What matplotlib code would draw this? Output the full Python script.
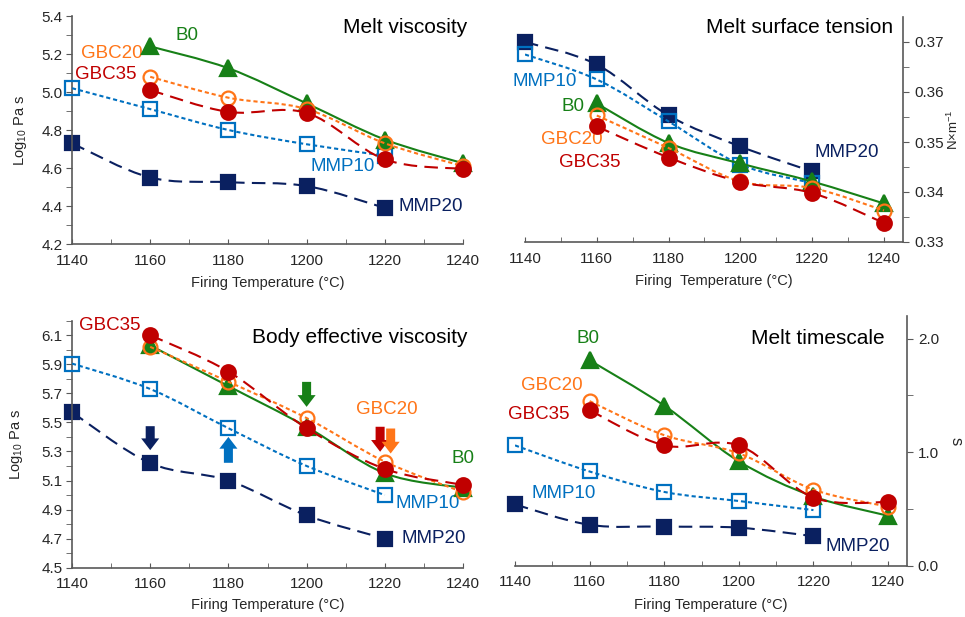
import numpy as np
import matplotlib
matplotlib.use('Agg')
import matplotlib.pyplot as plt
from matplotlib.path import Path
from matplotlib.patches import PathPatch
from matplotlib.ticker import FixedLocator, FormatStrFormatter

plt.rcParams['font.family'] = ['Liberation Sans', 'DejaVu Sans']
plt.rcParams['mathtext.fontset'] = 'custom'
plt.rcParams['mathtext.rm'] = 'Liberation Sans'
plt.rcParams['mathtext.default'] = 'regular'

# ---------------- data ----------------
t_gb = [1160, 1180, 1200, 1220, 1240]    # B0, GBC20, GBC35
t_mmp = [1140, 1160, 1180, 1200, 1220]   # MMP10, MMP20
x_ticks = [1140, 1160, 1180, 1200, 1220, 1240]

# Melt viscosity (Log10 Pa s)
visc_B0 = [5.24, 5.125, 4.94, 4.75, 4.625]
visc_GBC20 = [5.08, 4.97, 4.91, 4.73, 4.61]
visc_GBC35 = [5.01, 4.895, 4.89, 4.645, 4.595]
visc_MMP10 = [5.02, 4.91, 4.80, 4.725, 4.665]
visc_MMP20 = [4.73, 4.55, 4.525, 4.505, 4.39]

# Melt surface tension (N x m-1)
st_B0 = [0.3577, 0.3498, 0.3457, 0.3421, 0.3377]
st_GBC20 = [0.3553, 0.3488, 0.3421, 0.3408, 0.3363]
st_GBC35 = [0.3531, 0.3469, 0.3420, 0.3398, 0.3338]
st_MMP10 = [0.3675, 0.3625, 0.3541, 0.3455, 0.3418]
st_MMP20 = [0.3700, 0.3655, 0.3553, 0.3491, 0.3441]

# Body effective viscosity (Log10 Pa s)
bev_B0 = [6.03, 5.75, 5.47, 5.15, 5.05]
bev_GBC20 = [6.02, 5.78, 5.53, 5.23, 5.02]
bev_GBC35 = [6.10, 5.85, 5.46, 5.18, 5.07]
bev_MMP10 = [5.905, 5.73, 5.46, 5.20, 5.00]
bev_MMP20 = [5.57, 5.22, 5.10, 4.86, 4.70]

# Melt timescale (s)
ts_B0 = [1.81, 1.41, 0.92, 0.61, 0.44]
ts_GBC20 = [1.45, 1.15, 0.99, 0.67, 0.52]
ts_GBC35 = [1.37, 1.06, 1.06, 0.60, 0.56]
ts_MMP10 = [1.06, 0.83, 0.65, 0.57, 0.49]
ts_MMP20 = [0.54, 0.36, 0.345, 0.335, 0.26]

# ---------------- styles ----------------
C_B0 = '#178017'
C_GBC20 = '#FF7518'
C_GBC35 = '#C00000'
C_MMP10 = '#0070C0'
C_MMP20 = '#0A2060'
LW = 1.5
LONG = (0, (6.5, 3.5))
SHORT = (0, (2.0, 1.4))
style = {
    'B0': dict(color=C_B0, ls='-', marker='^', ms=11.5, fill=True),
    'GBC20': dict(color=C_GBC20, ls=SHORT, marker='o', ms=10, fill=False),
    'GBC35': dict(color=C_GBC35, ls=LONG, marker='o', ms=10.5, fill=True),
    'MMP10': dict(color=C_MMP10, ls=SHORT, marker='s', ms=10, fill=False),
    'MMP20': dict(color=C_MMP20, ls=LONG, marker='s', ms=10, fill=True),
}
TICK_C = '#262626'
SPINE_C = '#595959'


def smooth_path(x, y):
    P = np.column_stack([np.asarray(x, float), np.asarray(y, float)])
    n = len(P)
    verts = [P[0]]
    codes = [Path.MOVETO]
    for i in range(n - 1):
        p0 = P[i - 1] if i > 0 else P[i]
        p1 = P[i]
        p2 = P[i + 1]
        p3 = P[i + 2] if i + 2 < n else P[i + 1]
        c1 = p1 + (p2 - p0) / 6.0
        c2 = p2 - (p3 - p1) / 6.0
        verts += [c1, c2, p2]
        codes += [Path.CURVE4] * 3
    return Path(verts, codes)


def draw_series(ax, name, x, y, z):
    s = style[name]
    ax.add_patch(PathPatch(smooth_path(x, y), fill=False, edgecolor=s['color'],
                           lw=LW, linestyle=s['ls'], zorder=z, capstyle='butt'))
    ax.plot(x, y, linestyle='none', marker=s['marker'], ms=s['ms'],
            mfc=s['color'] if s['fill'] else 'none', mec=s['color'],
            mew=1.6, zorder=z + 0.5, clip_on=False)


def setup(ax, side, ylim, ymaj, ymin, fmt, xmax):
    ax.set_xlim(1140, xmax)
    ax.set_ylim(*ylim)
    ax.xaxis.set_major_locator(FixedLocator(x_ticks))
    ax.xaxis.set_minor_locator(FixedLocator([1150, 1170, 1190, 1210, 1230]))
    ax.yaxis.set_major_locator(FixedLocator(ymaj))
    ax.yaxis.set_minor_locator(FixedLocator(ymin))
    ax.yaxis.set_major_formatter(FormatStrFormatter(fmt))
    ax.spines['top'].set_visible(False)
    for sp in ax.spines.values():
        sp.set_color(SPINE_C)
        sp.set_linewidth(1.2)
    ax.tick_params(axis='x', which='both', direction='in', length=3.5,
                   color=SPINE_C, labelsize=11, labelcolor=TICK_C, pad=7)
    ax.tick_params(axis='y', which='both', direction='out', length=4,
                   color=SPINE_C, labelsize=11, labelcolor=TICK_C, pad=3)
    if side == 'left':
        ax.spines['right'].set_visible(False)
    else:
        ax.spines['left'].set_visible(False)
        ax.yaxis.tick_right()
        ax.yaxis.set_label_position('right')
        ax.tick_params(axis='y', which='both', left=False, right=True, pad=4)
    ax.patch.set_alpha(0)


W, H = 965, 617
fig = plt.figure(figsize=(W / 100, H / 100), dpi=100)


def axes_px(l, r, t, b):
    return fig.add_axes([l / W, 1 - b / H, (r - l) / W, (b - t) / H])


ax1 = axes_px(72, 463, 16, 244)
ax2 = axes_px(525, 903, 17, 242)
ax3 = axes_px(72, 463, 320.7, 567.7)
ax4 = axes_px(515, 906.7, 316, 565.7)

setup(ax1, 'left', (4.2, 5.4), np.round(np.arange(4.2, 5.41, 0.2), 2),
      np.round(np.arange(4.3, 5.4, 0.2), 2), '%.1f', 1240)
setup(ax2, 'right', (0.33, 0.375), [0.33, 0.34, 0.35, 0.36, 0.37],
      [0.335, 0.345, 0.355, 0.365], '%.2f', 1245.3)
setup(ax3, 'left', (4.5, 6.2), np.round(np.arange(4.5, 6.11, 0.2), 2),
      np.round(np.arange(4.6, 6.21, 0.2), 2), '%.1f', 1240)
setup(ax4, 'right', (0, 2.2), [0.0, 1.0, 2.0], [0.5, 1.5], '%.1f', 1245)

panels = [
    (ax1, dict(B0=visc_B0, GBC20=visc_GBC20, GBC35=visc_GBC35, MMP10=visc_MMP10, MMP20=visc_MMP20)),
    (ax2, dict(B0=st_B0, GBC20=st_GBC20, GBC35=st_GBC35, MMP10=st_MMP10, MMP20=st_MMP20)),
    (ax3, dict(B0=bev_B0, GBC20=bev_GBC20, GBC35=bev_GBC35, MMP10=bev_MMP10, MMP20=bev_MMP20)),
    (ax4, dict(B0=ts_B0, GBC20=ts_GBC20, GBC35=ts_GBC35, MMP10=ts_MMP10, MMP20=ts_MMP20)),
]
order = ['MMP20', 'MMP10', 'B0', 'GBC20', 'GBC35']
for ax, d in panels:
    for k, name in enumerate(order):
        x = t_mmp if name.startswith('MMP') else t_gb
        draw_series(ax, name, x, d[name], 2 + k)

# axis labels
XL = 10.5
for ax in (ax1, ax3, ax4):
    ax.set_xlabel('Firing Temperature (°C)', fontsize=XL, color=TICK_C)
ax2.set_xlabel('Firing  Temperature (°C)', fontsize=XL, color=TICK_C)
ax1.xaxis.set_label_coords(0.5, -0.14)
ax2.xaxis.set_label_coords(0.5, -0.142)
ax3.xaxis.set_label_coords(0.5, -0.123)
ax4.xaxis.set_label_coords(0.5, -0.128)
ax1.set_ylabel('Log$_{10}$ Pa s', fontsize=XL, color=TICK_C)
ax3.set_ylabel('Log$_{10}$ Pa s', fontsize=XL, color=TICK_C)
ax1.yaxis.set_label_coords(-0.11, 0.5)
ax3.yaxis.set_label_coords(-0.12, 0.5)
ax2.set_ylabel('N×m$^{-1}$', fontsize=9.5, color=TICK_C, rotation=90)
ax2.yaxis.set_label_coords(1.112, 0.5)
ax4.set_ylabel('s', fontsize=12, color=TICK_C, rotation=270, va='center')
ax4.yaxis.set_label_coords(1.125, 0.5)

# titles inside panels
TS = 15
ax1.text(1241, 5.34, 'Melt viscosity', fontsize=TS, ha='right', va='center', color='black')
ax2.text(1242.5, 0.3728, 'Melt surface tension', fontsize=TS, ha='right', va='center', color='black')
ax3.text(1186, 6.086, 'Body effective viscosity', fontsize=TS, ha='left', va='center',
         color='black', clip_on=False)
ax4.text(1239, 2.0, 'Melt timescale', fontsize=TS, ha='right', va='center', color='black')

# series labels
LS = 13.5
lab = dict(fontsize=LS, va='center')
ax1.text(1169.4, 5.30, 'B0', color=C_B0, ha='center', **lab)
ax1.text(1158, 5.205, 'GBC20', color=C_GBC20, ha='right', **lab)
ax1.text(1156.6, 5.09, 'GBC35', color=C_GBC35, ha='right', **lab)
ax1.text(1209.3, 4.61, 'MMP10', color=C_MMP10, ha='center', **lab)
ax1.text(1223.4, 4.395, 'MMP20', color=C_MMP20, ha='left', **lab)

ax2.text(1145.6, 0.362, 'MMP10', color=C_MMP10, ha='center', **lab)
ax2.text(1156.7, 0.357, 'B0', color=C_B0, ha='right', **lab)
ax2.text(1153, 0.3504, 'GBC20', color=C_GBC20, ha='center', **lab)
ax2.text(1158, 0.3458, 'GBC35', color=C_GBC35, ha='center', **lab)
ax2.text(1229.7, 0.3478, 'MMP20', color=C_MMP20, ha='center', **lab)

ax3.text(1149.7, 6.17, 'GBC35', color=C_GBC35, ha='center', clip_on=False, **lab)
ax3.text(1220.5, 5.59, 'GBC20', color=C_GBC20, ha='center', **lab)
ax3.text(1240, 5.25, 'B0', color=C_B0, ha='center', **lab)
ax3.text(1231, 4.94, 'MMP10', color=C_MMP10, ha='center', **lab)
ax3.text(1232.4, 4.70, 'MMP20', color=C_MMP20, ha='center', **lab)

ax4.text(1159.6, 2.0, 'B0', color=C_B0, ha='center', **lab)
ax4.text(1149.9, 1.585, 'GBC20', color=C_GBC20, ha='center', **lab)
ax4.text(1146.4, 1.33, 'GBC35', color=C_GBC35, ha='center', **lab)
ax4.text(1153, 0.64, 'MMP10', color=C_MMP10, ha='center', **lab)
ax4.text(1231.9, 0.165, 'MMP20', color=C_MMP20, ha='center', **lab)

# arrows in body effective viscosity panel: (x, tail_y, head_y, color)
arrows = [
    (1160, 5.474, 5.309, C_MMP20),
    (1180, 5.222, 5.40, C_MMP10),
    (1200, 5.779, 5.607, C_B0),
    (1218.8, 5.47, 5.298, C_GBC35),
    (1221.5, 5.458, 5.286, C_GBC20),
]
for x, y0, y1, c in arrows:
    ax3.annotate('', xy=(x, y1), xytext=(x, y0),
                 arrowprops=dict(arrowstyle='simple,head_width=1.0,head_length=0.65,tail_width=0.5',
                                 color=c, shrinkA=0, shrinkB=0, mutation_scale=13, lw=0),
                 zorder=10)

fig.savefig('out.png', dpi=100)
